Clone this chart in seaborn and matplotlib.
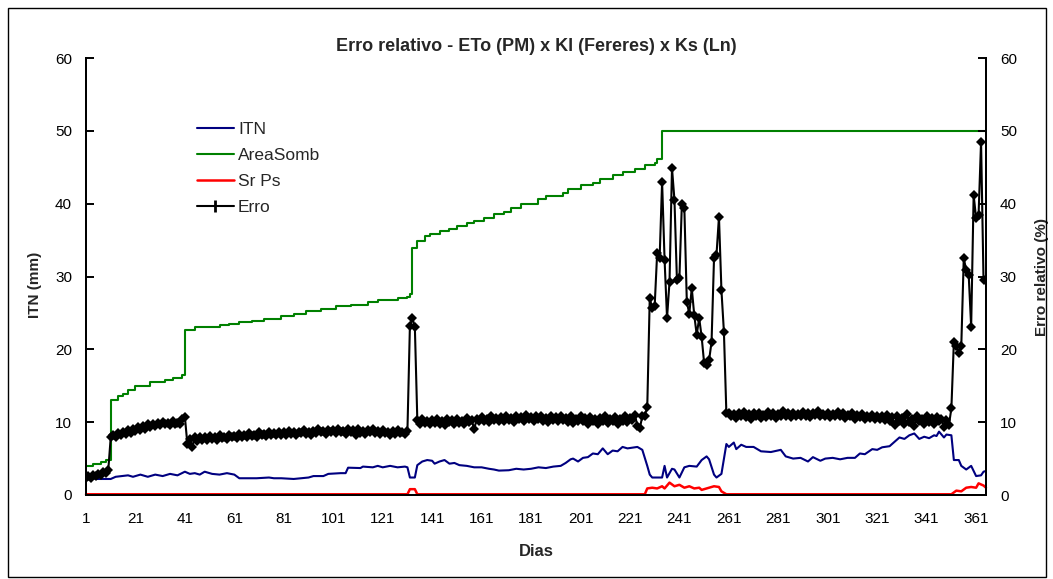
import matplotlib
matplotlib.use("Agg")
import matplotlib.pyplot as plt
import seaborn as sns
import numpy as np
import pandas as pd
from matplotlib.patches import Rectangle
from matplotlib.lines import Line2D

# ---------------- data ----------------
days = list(range(1, 366))

# Erro relativo (%) - daily values, in segments
erro_d001_010 = [2.3, 2.6, 2.4, 2.7, 2.6, 2.9, 2.8, 3.1, 3.0, 3.4]
erro_d011_041 = [7.9, 8.3, 8.0, 8.5, 8.2, 8.6, 8.4, 8.9, 8.5, 9.0, 8.8, 9.4, 8.9, 9.5, 9.1, 9.7,
                 9.3, 9.8, 9.5, 9.9, 9.6, 10.0, 9.7, 9.9, 9.6, 10.1, 9.7, 9.9, 9.8, 10.4, 10.7]
erro_d042_060 = [7.0, 7.7, 6.6, 7.9, 7.4, 8.0, 7.6, 7.9, 7.5, 8.1, 7.7, 7.9, 7.6, 8.2, 7.8, 8.0, 7.7, 8.3, 7.9]
erro_d061_080 = [8.1, 7.8, 8.4, 8.0, 8.3, 7.9, 8.5, 8.1, 8.3, 8.0, 8.6, 8.2, 8.4, 8.1, 8.7, 8.2, 8.5, 8.3, 8.6, 8.2]
erro_d081_100 = [8.6, 8.3, 8.8, 8.4, 8.6, 8.2, 8.7, 8.5, 8.9, 8.4, 8.7, 8.3, 8.8, 8.5, 9.0, 8.6, 8.8, 8.4, 8.9, 8.6]
erro_d101_120 = [8.9, 8.5, 9.1, 8.6, 8.8, 8.4, 9.0, 8.6, 8.9, 8.3, 9.0, 8.5, 8.8, 8.4, 8.9, 8.6, 9.1, 8.5, 8.8, 8.4]
erro_d121_131 = [8.9, 8.5, 8.7, 8.3, 8.8, 8.4, 8.9, 8.5, 8.7, 8.4, 8.8]
erro_d132_134 = [23.2, 24.3, 23.1]
erro_d135_150 = [10.3, 9.8, 10.4, 9.9, 10.2, 9.7, 10.3, 9.9, 10.5, 9.8, 10.2, 9.6, 10.4, 10.0, 10.3, 9.8]
erro_d151_170 = [10.5, 9.9, 10.2, 9.7, 10.6, 10.0, 10.3, 9.0, 10.4, 10.1, 10.7, 10.2, 10.5, 10.0, 10.8, 10.3, 10.6, 10.1, 10.7, 10.2]
erro_d171_190 = [10.9, 10.3, 10.6, 10.0, 10.8, 10.4, 10.7, 10.2, 11.0, 10.4, 10.7, 10.1, 10.9, 10.5, 10.8, 10.2, 10.6, 10.0, 10.8, 10.3]
erro_d191_210 = [10.7, 10.1, 10.9, 10.3, 10.6, 10.0, 10.8, 9.9, 10.5, 10.2, 10.9, 10.1, 10.6, 9.8, 10.7, 10.2, 10.5, 9.7, 10.6, 10.1]
erro_d211_227 = [10.8, 9.9, 10.5, 10.1, 10.7, 9.8, 10.4, 10.2, 10.9, 10.0, 10.6, 10.3, 11.0, 9.5, 9.2, 10.8, 10.9]
erro_d228_260 = [12.1, 27.0, 25.7, 26.0, 33.2, 32.5, 43.0, 32.3, 24.3, 29.3, 44.9, 40.5, 29.5, 29.8, 40.0, 39.4,
                 26.5, 24.9, 28.4, 24.7, 22.0, 24.3, 21.7, 18.1, 17.8, 18.5, 21.0, 32.5, 33.0, 38.2, 28.1, 22.4, 11.2]
erro_d261_280 = [11.3, 10.8, 11.1, 10.6, 11.2, 10.9, 11.4, 10.7, 11.1, 10.5, 11.2, 10.8, 11.3, 10.6, 11.0, 10.7, 11.4, 10.9, 11.2, 10.6]
erro_d281_300 = [11.1, 10.8, 11.5, 10.9, 11.2, 10.7, 11.3, 10.9, 11.1, 10.8, 11.4, 10.9, 11.2, 10.7, 11.3, 11.0, 11.5, 10.8, 11.1, 10.9]
erro_d301_320 = [11.3, 10.7, 11.1, 10.8, 11.4, 10.9, 11.2, 10.6, 11.0, 10.8, 11.2, 10.5, 11.0, 10.7, 11.1, 10.4, 10.9, 10.6, 11.0, 10.5]
erro_d321_349 = [10.9, 10.4, 10.8, 10.3, 11.0, 10.2, 10.7, 9.6, 10.9, 10.1, 10.6, 9.8, 11.1, 10.0, 10.5, 9.5, 10.8, 10.2,
                 10.4, 9.7, 10.9, 10.0, 10.6, 9.8, 10.7, 10.1, 10.5, 9.4, 10.3]
erro_d350_365 = [9.6, 11.9, 21.0, 20.4, 19.5, 20.4, 32.5, 30.9, 30.2, 23.1, 41.2, 38.0, 38.5, 48.5, 29.5, 29.5]

erro = (erro_d001_010 + erro_d011_041 + erro_d042_060 + erro_d061_080 + erro_d081_100 + erro_d101_120 +
        erro_d121_131 + erro_d132_134 + erro_d135_150 + erro_d151_170 + erro_d171_190 + erro_d191_210 +
        erro_d211_227 + erro_d228_260 + erro_d261_280 + erro_d281_300 + erro_d301_320 + erro_d321_349 +
        erro_d350_365)

# ITN (mm) - read at the visible turning points
itn_days = [1, 3, 5, 11, 13, 18, 20, 23, 26, 29, 32, 35, 38, 41, 43, 45, 47, 49, 52, 55, 58, 61, 63, 70, 75, 77, 80,
            85, 88, 91, 93, 97, 99, 104, 106, 107, 112, 113, 117, 119, 121, 124, 127, 130, 131, 132, 134, 135, 137,
            139, 141, 142, 144, 146, 148, 150, 152, 155, 158, 161, 164, 166, 168, 172, 175, 178, 181, 184, 187, 190,
            193, 195, 197, 198, 200, 202, 204, 206, 208, 210, 212, 214, 216, 218, 220, 222, 224, 226, 228, 229, 230,
            234, 235, 236, 238, 239, 241, 243, 245, 248, 250, 252, 253, 255, 256, 258, 260, 261, 263, 264, 266, 268,
            271, 274, 278, 282, 284, 287, 290, 293, 295, 298, 300, 303, 306, 309, 312, 314, 316, 319, 321, 323, 326,
            328, 330, 332, 334, 336, 338, 340, 342, 344, 345, 346, 348, 349, 351, 352, 354, 355, 357, 359, 361, 363,
            364, 365]
itn_vals = [2.6, 2.4, 2.2, 2.2, 2.5, 2.7, 2.5, 2.8, 2.5, 2.8, 2.6, 2.9, 2.7, 3.2, 2.9, 3.0, 2.8, 3.2, 2.9, 2.8, 3.0,
            2.8, 2.3, 2.3, 2.4, 2.3, 2.3, 2.2, 2.3, 2.4, 2.6, 2.6, 2.9, 3.0, 3.0, 3.75, 3.7, 3.9, 3.8, 4.0, 3.8, 4.0,
            3.8, 3.9, 3.8, 2.4, 2.4, 4.1, 4.6, 4.8, 4.7, 4.3, 4.6, 4.8, 4.3, 4.4, 4.1, 4.0, 3.8, 3.8, 3.6, 3.5, 3.35,
            3.4, 3.6, 3.5, 3.6, 3.8, 3.7, 3.9, 4.0, 4.4, 4.9, 5.0, 4.6, 5.1, 5.2, 5.7, 5.6, 6.4, 5.6, 6.1, 6.0, 6.6,
            6.4, 6.5, 6.6, 6.2, 4.0, 2.8, 2.4, 2.4, 4.0, 2.4, 3.6, 3.5, 2.4, 3.8, 4.0, 3.9, 4.8, 5.3, 4.9, 2.8, 2.4,
            2.9, 7.0, 6.6, 7.2, 6.3, 6.9, 6.6, 6.6, 6.0, 5.9, 6.2, 5.3, 5.0, 5.1, 4.6, 5.2, 4.7, 5.0, 5.1, 4.9, 5.1,
            5.1, 5.7, 5.6, 6.3, 6.2, 6.55, 6.7, 7.3, 7.9, 7.7, 8.2, 8.45, 7.7, 8.0, 7.8, 8.2, 8.1, 8.7, 7.9, 8.3,
            8.2, 4.8, 4.8, 4.0, 3.5, 4.0, 2.6, 2.7, 3.2, 3.3]

# AreaSomb - step levels (day where each level starts)
area_days = [1, 4, 7, 9, 11, 14, 16, 18, 21, 27, 33, 36, 40, 41, 45, 55, 59, 63, 68, 73, 80, 85, 90, 96, 102, 108,
             115, 119, 127, 131, 132, 133, 135, 138, 140, 144, 148, 151, 155, 158, 162, 166, 170, 173, 177, 184,
             187, 194, 196, 201, 206, 209, 214, 218, 223, 227, 231, 232, 234, 365]
area_vals = [4.0, 4.2, 4.5, 4.8, 13.0, 13.6, 13.9, 14.4, 14.9, 15.5, 15.8, 16.1, 16.5, 22.7, 23.0, 23.3, 23.5,
             23.7, 23.9, 24.1, 24.6, 24.9, 25.2, 25.5, 26.0, 26.1, 26.5, 26.8, 27.1, 27.2, 27.6, 33.9, 34.9, 35.5,
             35.9, 36.2, 36.5, 36.9, 37.3, 37.6, 38.0, 38.6, 38.9, 39.4, 40.0, 40.7, 41.1, 41.5, 42.0, 42.5, 42.8,
             43.4, 43.9, 44.3, 44.8, 45.3, 45.6, 46.1, 50.0, 50.0]

# Sr Ps
srps_days = [1, 131, 132, 134, 135, 227, 228, 230, 232, 234, 235, 237, 239, 241, 243, 245, 247, 249, 250, 252, 255,
             257, 258, 260, 351, 353, 355, 357, 359, 361, 362, 364, 365]
srps_vals = [0.1, 0.1, 0.8, 0.8, 0.1, 0.1, 0.9, 1.0, 0.9, 1.2, 0.9, 1.7, 1.2, 1.4, 1.0, 1.2, 0.9, 1.0, 0.7, 0.9,
             1.2, 1.1, 0.5, 0.1, 0.1, 0.6, 0.5, 1.0, 1.1, 1.0, 1.6, 1.3, 1.0]

x_ticks = list(range(1, 366, 20))
y_ticks = [0, 10, 20, 30, 40, 50, 60]

title = "Erro relativo - ETo (PM) x Kl (Fereres) x Ks (Ln)"

# ---------------- plot ----------------
sns.set_style("white")
plt.rcParams["font.family"] = ["Liberation Sans", "DejaVu Sans"]

W, H = 1053, 579
fig = plt.figure(figsize=(W / 100, H / 100), dpi=100)
ax = fig.add_axes([86 / W, 1 - 495 / H, 900 / W, 437 / H])
ax2 = ax.twinx()

df_itn = pd.DataFrame({"d": itn_days, "v": itn_vals})
df_area = pd.DataFrame({"d": area_days, "v": area_vals})
df_sr = pd.DataFrame({"d": srps_days, "v": srps_vals})
df_err = pd.DataFrame({"d": days, "v": erro})

lw = 1.5
sns.lineplot(data=df_itn, x="d", y="v", ax=ax, color="#000080", lw=lw, estimator=None, sort=False, label="ITN")
sns.lineplot(data=df_area, x="d", y="v", ax=ax, color="#008000", lw=lw, estimator=None, sort=False,
             drawstyle="steps-post", label="AreaSomb")
sns.lineplot(data=df_sr, x="d", y="v", ax=ax, color="#FF0000", lw=lw + 0.3, estimator=None, sort=False,
             label="Sr Ps", clip_on=False, zorder=5)
sns.lineplot(data=df_err, x="d", y="v", ax=ax2, color="black", lw=lw, estimator=None, sort=False,
             marker="D", markersize=5.5, markeredgewidth=0, label="Erro")

for a in (ax, ax2):
    a.set_xlim(1, 365)
    a.set_ylim(0, 60)
    a.set_yticks(y_ticks)
    a.spines["top"].set_visible(False)
    for s in ("left", "right", "bottom"):
        a.spines[s].set_color("black")
        a.spines[s].set_linewidth(1.4)

ax.set_xticks(x_ticks)
ax.tick_params(axis="x", direction="inout", length=9, width=1.4, labelsize=11, pad=8, colors="black")
ax.tick_params(axis="y", direction="in", length=6, width=1.4, labelsize=11, pad=10, left=True, colors="black")
ax2.tick_params(axis="y", direction="in", length=6, width=1.4, labelsize=11, pad=10, right=True, colors="black")

ax.set_xlabel("Dias", fontsize=12, fontweight="bold")
ax.set_ylabel("ITN (mm)", fontsize=11, fontweight="bold")
ax2.set_ylabel("Erro relativo (%)", fontsize=11, fontweight="bold")
ax.xaxis.set_label_coords(0.5, -0.112)
ax.yaxis.set_label_coords(-0.049, 0.48)
ax2.yaxis.set_label_coords(1.054, 0.5)
ax.set_title(title, fontsize=13, fontweight="bold", pad=5)

h1, l1 = ax.get_legend_handles_labels()
h2, l2 = ax2.get_legend_handles_labels()
if ax.get_legend():
    ax.get_legend().remove()
if ax2.get_legend():
    ax2.get_legend().remove()
erro_handle = Line2D([], [], color="black", lw=lw, marker="|", markersize=9, markeredgewidth=2)
ax2.legend(h1 + [erro_handle], l1 + l2, loc="upper left", bbox_to_anchor=(0.108, 0.885), frameon=False,
           fontsize=12.5, handlelength=2.1, handletextpad=0.25, labelspacing=0.62, borderpad=0.3)

fig.patches.append(Rectangle((8 / W, 2 / H), 1038 / W, 1 - 10 / H, transform=fig.transFigure,
                             fill=False, edgecolor="black", lw=1.0))

fig.savefig("out.png", dpi=100, facecolor="white")
